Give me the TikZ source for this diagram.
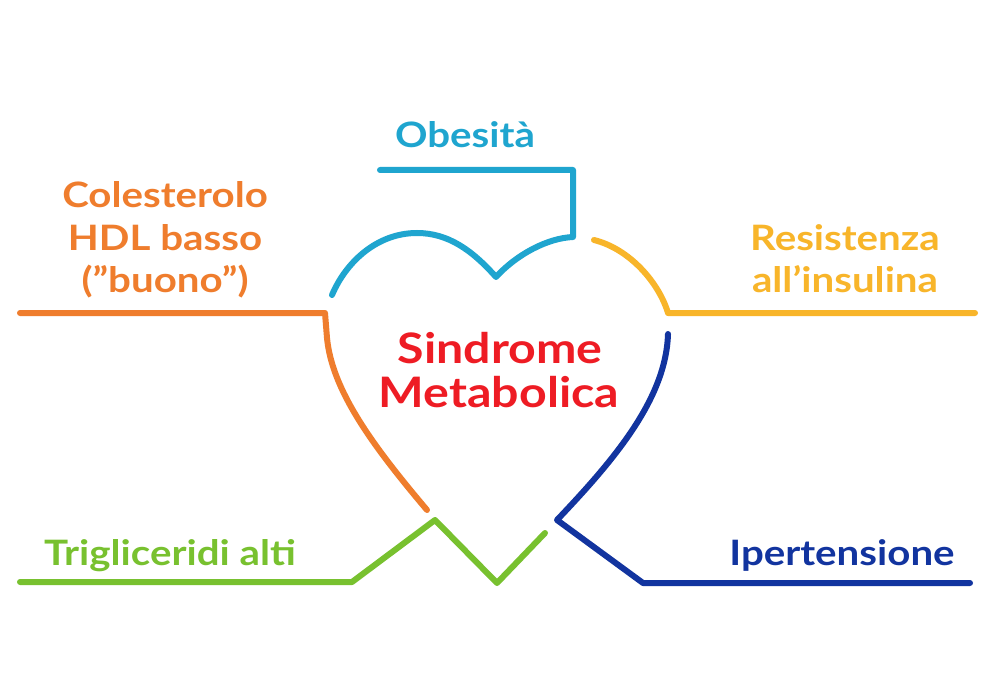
\documentclass[tikz,border=0pt]{standalone}
\usepackage{fontspec}
\setmainfont{Lato}
\definecolor{cOrange}{HTML}{EF7D2D}
\definecolor{cLBlue}{HTML}{1FA5CF}
\definecolor{cYellow}{HTML}{F8B52A}
\definecolor{cGreen}{HTML}{78C12F}
\definecolor{cDBlue}{HTML}{12349F}
\definecolor{cRed}{HTML}{EE1C24}
\newcommand\widetxt[1]{\scalebox{1.15}[1]{#1}}
\tikzset{
  lbl/.style={anchor=base, inner sep=0pt, font=\fontsize{35}{42}\selectfont\bfseries},
  ttl/.style={anchor=base, inner sep=0pt, text=cRed, font=\fontsize{42}{50}\selectfont\bfseries},
  stroke/.style={line width=6pt, line cap=round, line join=round}
}
\begin{document}
\begin{tikzpicture}[x=1pt,y=-1pt]
\useasboundingbox (0,0) rectangle (1000,700);
\fill[white] (0,0) rectangle (1000,700);

% texts
\node[lbl, text=cLBlue] (obe) at (465,148) {\widetxt{Obesità}};
\node[lbl, text=cOrange] (col1) at (165,208) {\widetxt{Colesterolo}};
\node[lbl, text=cOrange] (col2) at (165,251) {\widetxt{HDL basso}};
\node[lbl, text=cOrange] (col3) at (165,293) {\widetxt{(”buono”)}};
\node[lbl, text=cYellow] (res1) at (845,251) {\widetxt{Resistenza}};
\node[lbl, text=cYellow] (res2) at (845,293) {\widetxt{all’insulina}};
\node[lbl, text=cGreen] (tri) at (170,565) {\widetxt{Trigliceridi alti}};
\node[lbl, text=cDBlue] (ipe) at (842,565) {\widetxt{Ipertensione}};
\node[ttl] (sin) at (500,363) {\widetxt{Sindrome}};
\node[ttl] (met) at (499,407) {\widetxt{Metabolica}};

% light blue: Obesita
\coordinate (b0) at (380,170);
\coordinate (b1) at (573,170);
\coordinate (b2) at (573,237);
\coordinate (bn) at (496,277);
\coordinate (bt) at (417,233);
\coordinate (b3) at (332,295);
\draw[stroke, cLBlue] (b0) -- (b1) -- (b2)
  .. controls (548,238) and (517,254) .. (bn)
  .. controls (472,250) and (448,233) .. (bt)
  .. controls (377,233) and (346,262) .. (b3);

% yellow
\coordinate (y0) at (594,240);
\coordinate (y1) at (668,313);
\coordinate (y2) at (975,313);
\draw[stroke, cYellow] (y0) .. controls (630,249) and (659,283) .. (y1) -- (y2);

% orange
\coordinate (o0) at (20,313);
\coordinate (o1) at (325,313);
\coordinate (o2) at (327,338);
\coordinate (o3) at (427,510);
\draw[stroke, cOrange] (o0) -- (o1) -- (o2)
  .. controls (332,390) and (372,445) .. (o3);

% green
\coordinate (g0) at (20,582);
\coordinate (g1) at (352,582);
\coordinate (g2) at (435,520);
\coordinate (g3) at (497,583);
\coordinate (g4) at (545,533);
\draw[stroke, cGreen] (g0) -- (g1) -- (g2) -- (g3) -- (g4);

% dark blue
\coordinate (d0) at (668,334);
\coordinate (d1) at (557,520);
\coordinate (d2) at (643,583);
\coordinate (d3) at (970,583);
\draw[stroke, cDBlue] (d0) .. controls (666,400) and (612,462) .. (d1) -- (d2) -- (d3);
\end{tikzpicture}
\end{document}
